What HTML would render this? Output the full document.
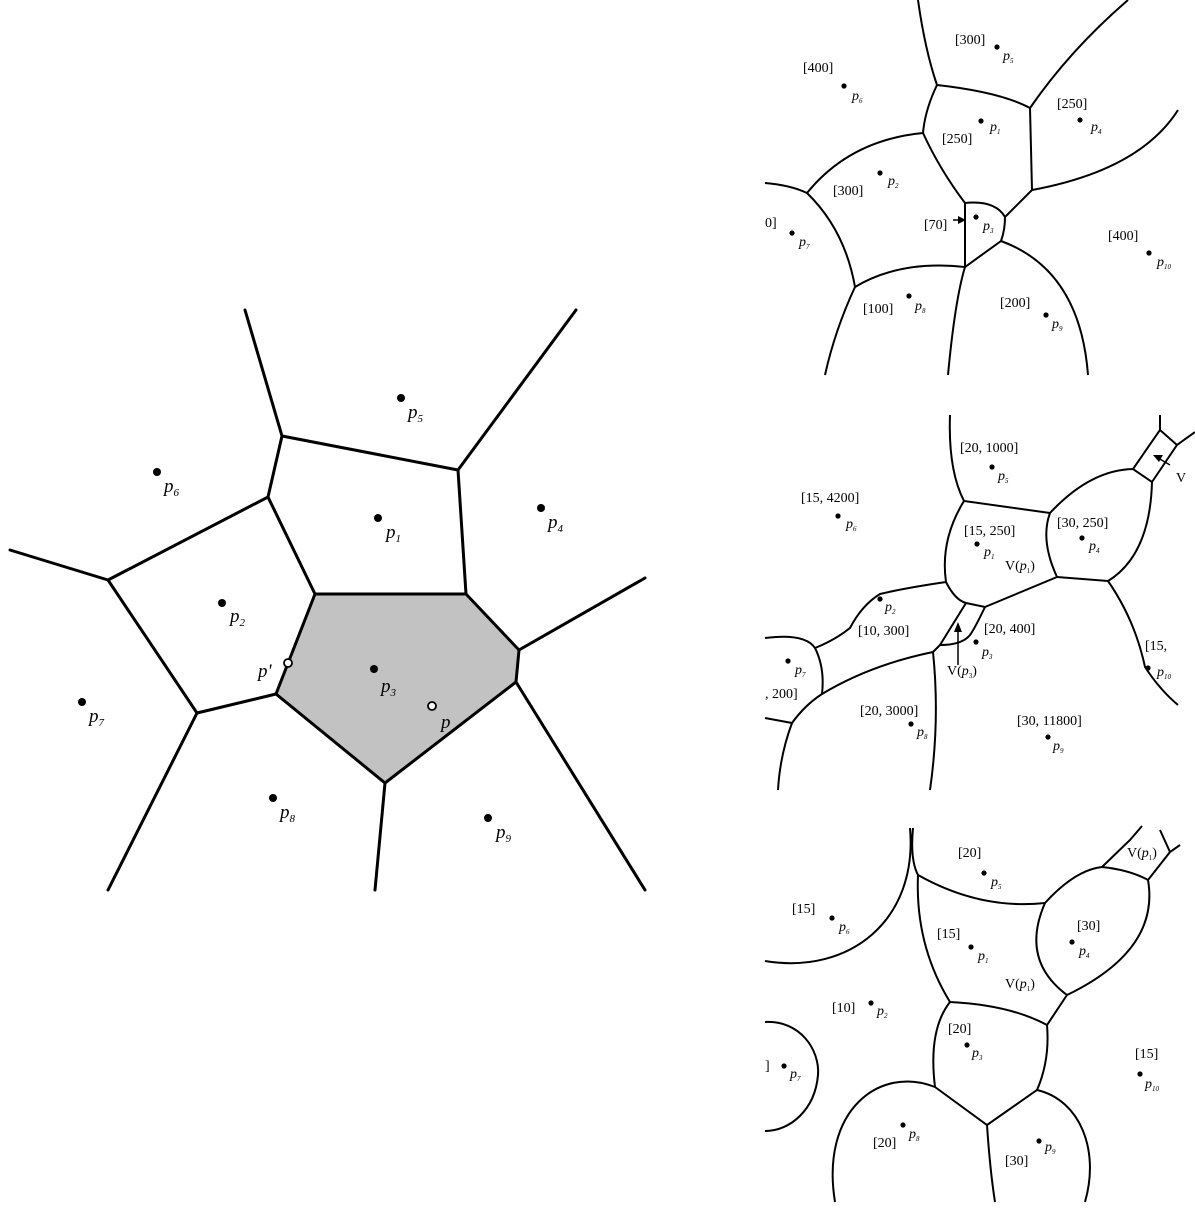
<!DOCTYPE html>
<html><head><meta charset="utf-8"><style>
html,body{margin:0;padding:0;background:#fff;}
svg{display:block;}
text{font-family:"Liberation Serif",serif;fill:#000;}
.b{font-size:14px;}
.pl{font-family:"Liberation Sans",sans-serif;font-style:italic;font-size:19px;}
.ps{font-style:italic;font-size:14px;}
</style></head><body>
<svg width="1195" height="1216" viewBox="0 0 1195 1216" xmlns="http://www.w3.org/2000/svg">
<!-- LEFT DIAGRAM -->
<polygon points="315,594 466,594 519,650 516,682 385,783 276,694" fill="#c2c2c2"/>
<g stroke="#000" stroke-width="3" fill="none" stroke-linecap="round" stroke-linejoin="round">
<path d="M245,310 L282,436 L458,470 L576,310"/>
<path d="M282,436 L268,497 L108,580 L10,550"/>
<path d="M268,497 L315,594 L466,594 L458,470"/>
<path d="M108,580 L197,713 L276,694 L315,594"/>
<path d="M197,713 L108,890"/>
<path d="M466,594 L519,650 L645,578"/>
<path d="M519,650 L516,682 L645,890"/>
<path d="M516,682 L385,783 L276,694"/>
<path d="M385,783 L375,890"/>
</g>
<g fill="#000">
<circle cx="401" cy="398" r="4"/><circle cx="157" cy="472" r="4"/><circle cx="378" cy="518" r="4"/>
<circle cx="541" cy="508" r="4"/><circle cx="222" cy="603" r="4"/><circle cx="374" cy="669" r="4"/>
<circle cx="82" cy="702" r="4"/><circle cx="273" cy="798" r="4"/><circle cx="488" cy="818" r="4"/>
</g>
<circle cx="288" cy="663" r="4" fill="#fff" stroke="#000" stroke-width="1.8"/>
<circle cx="432" cy="706" r="4" fill="#fff" stroke="#000" stroke-width="1.8"/>
<g class="pl">
<text x="408" y="418">p<tspan font-size="11" dy="4">5</tspan></text>
<text x="164" y="492">p<tspan font-size="11" dy="4">6</tspan></text>
<text x="386" y="538">p<tspan font-size="11" dy="4">1</tspan></text>
<text x="548" y="528">p<tspan font-size="11" dy="4">4</tspan></text>
<text x="230" y="622">p<tspan font-size="11" dy="4">2</tspan></text>
<text x="381" y="692">p<tspan font-size="11" dy="4">3</tspan></text>
<text x="89" y="722">p<tspan font-size="11" dy="4">7</tspan></text>
<text x="280" y="818">p<tspan font-size="11" dy="4">8</tspan></text>
<text x="496" y="838">p<tspan font-size="11" dy="4">9</tspan></text>
<text x="258" y="677">p'</text>
<text x="441" y="728">p</text>
</g>

<!-- TOP RIGHT -->
<g stroke="#000" stroke-width="2" fill="none">
<path d="M918,0 Q925,50 937,85 Q1000,92 1030,108 Q1070,50 1128,0"/>
<path d="M1030,108 L1032,190 Q1140,170 1178,110"/>
<path d="M937,85 Q925,110 923,133 Q850,140 807,193"/>
<path d="M765,183 Q790,185 807,193 Q845,230 855,287 Q835,330 825,375"/>
<path d="M855,287 Q900,260 965,267 Q955,300 948,375"/>
<path d="M923,133 Q940,170 965,203 L965,267 L1001,241 Q1005,230 1005,217 Q995,200 965,203"/>
<path d="M1005,217 L1032,190"/>
<path d="M1001,241 Q1080,270 1088,375"/>
<path d="M953,220 L962,220" stroke-width="1.5"/>
</g>
<path d="M966,220 L958,216 L958,224 Z" fill="#000"/>
<g fill="#000">
<circle cx="997" cy="47" r="2.6"/><circle cx="844" cy="86" r="2.6"/><circle cx="1080" cy="120" r="2.6"/>
<circle cx="981" cy="121" r="2.6"/><circle cx="880" cy="173" r="2.6"/><circle cx="792" cy="233" r="2.6"/>
<circle cx="976" cy="217" r="2.6"/><circle cx="1149" cy="253" r="2.6"/><circle cx="909" cy="296" r="2.6"/>
<circle cx="1046" cy="315" r="2.6"/>
</g>
<g class="b">
<text x="955" y="44">[300]</text><text x="803" y="72">[400]</text><text x="1057" y="108">[250]</text>
<text x="942" y="143">[250]</text><text x="833" y="195">[300]</text><text x="765" y="227">0]</text>
<text x="924" y="229">[70]</text><text x="1108" y="240">[400]</text><text x="863" y="313">[100]</text>
<text x="1000" y="307">[200]</text>
</g>
<g class="ps">
<text x="1003" y="60">p<tspan font-size="7" dy="3">5</tspan></text>
<text x="852" y="100">p<tspan font-size="7" dy="3">6</tspan></text>
<text x="1091" y="131">p<tspan font-size="7" dy="3">4</tspan></text>
<text x="990" y="131">p<tspan font-size="7" dy="3">1</tspan></text>
<text x="888" y="185">p<tspan font-size="7" dy="3">2</tspan></text>
<text x="799" y="246">p<tspan font-size="7" dy="3">7</tspan></text>
<text x="983" y="230">p<tspan font-size="7" dy="3">3</tspan></text>
<text x="1157" y="266">p<tspan font-size="7" dy="3">10</tspan></text>
<text x="915" y="310">p<tspan font-size="7" dy="3">8</tspan></text>
<text x="1052" y="328">p<tspan font-size="7" dy="3">9</tspan></text>
</g>

<!-- MIDDLE RIGHT -->
<g stroke="#000" stroke-width="2" fill="none">
<path d="M950,415 Q948,470 964,501 L1050,513"/>
<path d="M964,501 Q940,540 946,582 Q955,600 966,603 L985,607 L1057,577 Q1040,540 1050,513"/>
<path d="M1050,513 Q1090,470 1133,469 L1152,482 Q1150,555 1108,581 L1057,577"/>
<path d="M1133,469 L1160,430 L1160,415"/>
<path d="M1152,482 L1177,445 L1195,432"/>
<path d="M1160,430 L1177,445"/>
<path d="M1108,581 Q1135,620 1145,667 Q1160,690 1178,705"/>
<path d="M946,582 Q905,588 880,594 Q862,605 850,628 Q835,640 815,648"/>
<path d="M966,603 L940,645 L933,652"/>
<path d="M985,607 Q975,628 970,635 Q962,645 940,645"/>
<path d="M933,652 Q870,665 822,694 Q805,705 792,723 Q780,755 778,790"/>
<path d="M792,723 L765,718"/>
<path d="M765,638 Q805,633 815,648 Q825,668 822,694"/>
<path d="M933,652 Q940,720 930,790"/>
<path d="M958,665 L958,630" stroke-width="1.5"/>
<path d="M1170,465 L1158,458" stroke-width="1.5"/>
</g>
<path d="M958,622 L954,632 L962,632 Z" fill="#000"/>
<path d="M1153,455 L1163,455 L1159,462 Z" fill="#000"/>
<g fill="#000">
<circle cx="992" cy="467" r="2.6"/><circle cx="838" cy="516" r="2.6"/><circle cx="977" cy="544" r="2.6"/>
<circle cx="1082" cy="538" r="2.6"/><circle cx="880" cy="599" r="2.6"/><circle cx="976" cy="642" r="2.6"/>
<circle cx="788" cy="661" r="2.6"/><circle cx="911" cy="724" r="2.6"/><circle cx="1048" cy="737" r="2.6"/>
<circle cx="1148" cy="668" r="2.6"/>
</g>
<g class="b">
<text x="960" y="452">[20, 1000]</text><text x="801" y="502">[15, 4200]</text>
<text x="964" y="535">[15, 250]</text><text x="1057" y="527">[30, 250]</text>
<text x="858" y="635">[10, 300]</text><text x="984" y="633">[20, 400]</text>
<text x="765" y="698">, 200]</text><text x="860" y="715">[20, 3000]</text>
<text x="1017" y="725">[30, 11800]</text><text x="1145" y="650">[15, </text>
<text x="1005" y="570">V(<tspan font-style="italic">p</tspan><tspan font-size="7" dy="3">1</tspan><tspan dy="-3">)</tspan></text>
<text x="947" y="675">V(<tspan font-style="italic">p</tspan><tspan font-size="7" dy="3">3</tspan><tspan dy="-3">)</tspan></text>
<text x="1176" y="482">V</text>
</g>
<g class="ps">
<text x="998" y="480">p<tspan font-size="7" dy="3">5</tspan></text>
<text x="846" y="528">p<tspan font-size="7" dy="3">6</tspan></text>
<text x="984" y="556">p<tspan font-size="7" dy="3">1</tspan></text>
<text x="1089" y="550">p<tspan font-size="7" dy="3">4</tspan></text>
<text x="885" y="611">p<tspan font-size="7" dy="3">2</tspan></text>
<text x="982" y="656">p<tspan font-size="7" dy="3">3</tspan></text>
<text x="795" y="674">p<tspan font-size="7" dy="3">7</tspan></text>
<text x="917" y="736">p<tspan font-size="7" dy="3">8</tspan></text>
<text x="1053" y="750">p<tspan font-size="7" dy="3">9</tspan></text>
<text x="1157" y="676">p<tspan font-size="7" dy="3">10</tspan></text>
</g>

<!-- BOTTOM RIGHT -->
<g stroke="#000" stroke-width="2" fill="none">
<path d="M765,961 C850,975 918,920 910,828"/>
<path d="M913,828 Q910,860 918,875 Q980,910 1045,903"/>
<path d="M1045,903 Q1075,870 1102,867 Q1130,870 1148,880 Q1160,950 1067,995 Q1020,960 1045,903"/>
<path d="M1102,867 L1130,840 L1142,826"/>
<path d="M1148,880 L1170,852 L1180,845"/>
<path d="M1170,852 L1160,830"/>
<path d="M918,875 Q915,945 950,1002 Q1010,1005 1047,1025 L1067,995"/>
<path d="M950,1002 Q928,1030 935,1087 L987,1125 L1037,1090 Q1050,1060 1047,1025"/>
<path d="M935,1087 C880,1065 820,1110 835,1202"/>
<path d="M987,1125 Q990,1170 995,1202"/>
<path d="M1037,1090 C1080,1100 1100,1150 1085,1202"/>
<path d="M765,1022 C800,1020 820,1050 818,1075 C815,1110 790,1131 765,1131"/>
</g>
<g fill="#000">
<circle cx="984" cy="873" r="2.6"/><circle cx="832" cy="918" r="2.6"/><circle cx="971" cy="947" r="2.6"/>
<circle cx="1072" cy="942" r="2.6"/><circle cx="871" cy="1003" r="2.6"/><circle cx="967" cy="1045" r="2.6"/>
<circle cx="1140" cy="1074" r="2.6"/><circle cx="784" cy="1066" r="2.6"/><circle cx="903" cy="1125" r="2.6"/>
<circle cx="1039" cy="1141" r="2.6"/>
</g>
<g class="b">
<text x="958" y="857">[20]</text><text x="792" y="913">[15]</text><text x="937" y="938">[15]</text>
<text x="1077" y="930">[30]</text><text x="832" y="1012">[10]</text><text x="948" y="1033">[20]</text>
<text x="1135" y="1058">[15]</text><text x="765" y="1070">]</text><text x="873" y="1147">[20]</text>
<text x="1005" y="1165">[30]</text>
<text x="1127" y="857">V(<tspan font-style="italic">p</tspan><tspan font-size="7" dy="3">1</tspan><tspan dy="-3">)</tspan></text>
<text x="1005" y="988">V(<tspan font-style="italic">p</tspan><tspan font-size="7" dy="3">1</tspan><tspan dy="-3">)</tspan></text>
</g>
<g class="ps">
<text x="991" y="886">p<tspan font-size="7" dy="3">5</tspan></text>
<text x="839" y="931">p<tspan font-size="7" dy="3">6</tspan></text>
<text x="978" y="960">p<tspan font-size="7" dy="3">1</tspan></text>
<text x="1079" y="955">p<tspan font-size="7" dy="3">4</tspan></text>
<text x="877" y="1015">p<tspan font-size="7" dy="3">2</tspan></text>
<text x="972" y="1057">p<tspan font-size="7" dy="3">3</tspan></text>
<text x="1145" y="1088">p<tspan font-size="7" dy="3">10</tspan></text>
<text x="790" y="1078">p<tspan font-size="7" dy="3">7</tspan></text>
<text x="909" y="1138">p<tspan font-size="7" dy="3">8</tspan></text>
<text x="1045" y="1151">p<tspan font-size="7" dy="3">9</tspan></text>
</g>
</svg>
</body></html>
